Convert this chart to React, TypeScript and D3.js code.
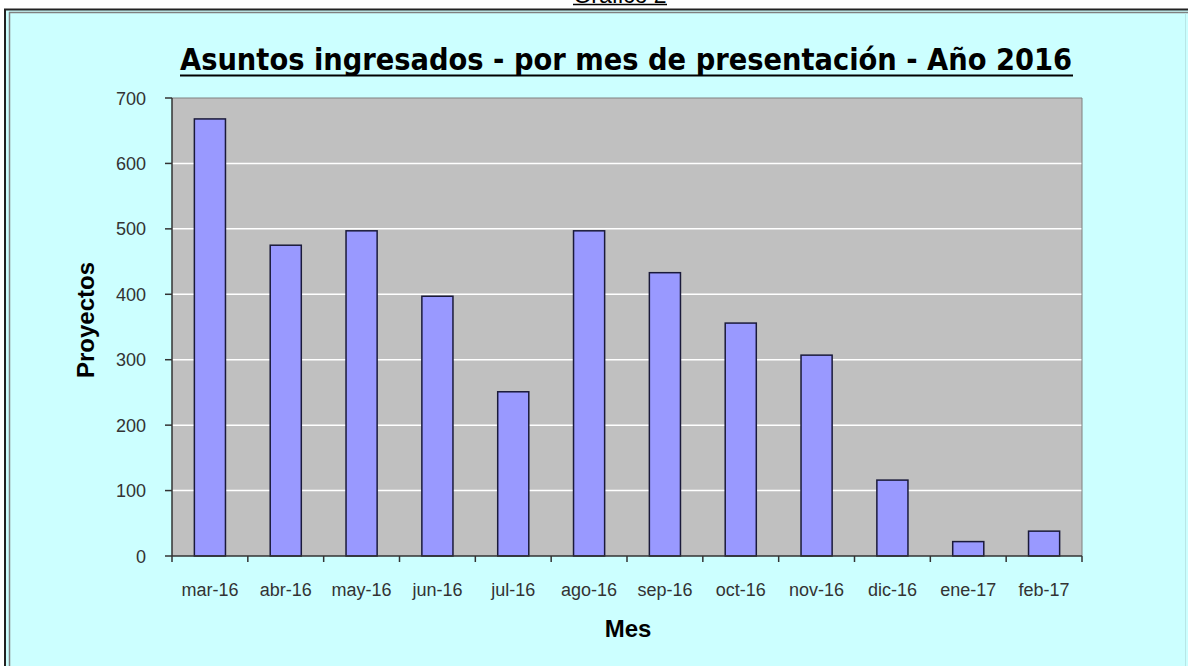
import React from "react";
import * as d3 from "d3";

const months = ["mar-16","abr-16","may-16","jun-16","jul-16","ago-16","sep-16","oct-16","nov-16","dic-16","ene-17","feb-17"];
const proyectos = [668, 475, 497, 397, 251, 497, 433, 356, 307, 116, 22, 38];
const yTicks = [0, 100, 200, 300, 400, 500, 600, 700];

const W = 1188, H = 666;
const M = { left: 172, right: 1082, top: 98, bottom: 556 };

export default function App() {
  const x = d3.scaleBand<string>().domain(months).range([M.left, M.right]).paddingInner(0).paddingOuter(0);
  const y = d3.scaleLinear().domain([0, 700]).range([M.bottom, M.top]);
  const bw = x.bandwidth() * 0.41;
  const font = "Arial, 'Liberation Sans', sans-serif";
  return (
    <svg width={W} height={H} style={{ position: "absolute", left: 0, top: 0, display: "block" }}>
      <rect x={0} y={0} width={W} height={H} fill="#ffffff" />
      {/* Gráfico 2 header (cut off at the top, as in the source) */}
      <text x={620} y={3} textAnchor="middle" fontFamily={font} fontSize={23} fill="#000">Gráfico 2</text>
      <line x1={573} x2={667} y1={4.5} y2={4.5} stroke="#000" strokeWidth={1.5} />
      {/* outer frame */}
      <rect x={4} y={9} width={W - 4} height={H - 9} fill="#ccffff" stroke="none" />
      <line x1={4} x2={W} y1={9.5} y2={9.5} stroke="#222" strokeWidth={2} />
      <line x1={5} x2={5} y1={9} y2={H} stroke="#222" strokeWidth={2} />
      <line x1={9} x2={W} y1={12.5} y2={12.5} stroke="#808080" strokeWidth={1.5} />
      <line x1={9.5} x2={9.5} y1={12} y2={H} stroke="#808080" strokeWidth={1.5} />
      <line x1={1185.5} x2={1185.5} y1={13} y2={H} stroke="#b8e6e6" strokeWidth={1} />
      {/* title */}
      <text x={626} y={70} textAnchor="middle" fontFamily="'DejaVu Sans Condensed', 'DejaVu Sans', sans-serif" fontWeight="bold" fontSize={30}
        textLength={892} lengthAdjust="spacingAndGlyphs" fill="#000">Asuntos ingresados - por mes de presentación - Año 2016</text>
      <line x1={180} x2={1073} y1={75.5} y2={75.5} stroke="#000" strokeWidth={2} />
      {/* plot area */}
      <rect x={M.left} y={M.top} width={M.right - M.left} height={M.bottom - M.top} fill="#c0c0c0" />
      {yTicks.filter(t => t > 0 && t < 700).map(t => (
        <line key={t} x1={M.left} x2={M.right} y1={y(t)} y2={y(t)} stroke="#ffffff" strokeWidth={1.5} />
      ))}
      <line x1={M.left} x2={M.right} y1={M.top} y2={M.top} stroke="#808080" strokeWidth={1} />
      <line x1={M.right} x2={M.right} y1={M.top} y2={M.bottom} stroke="#808080" strokeWidth={1} />
      {/* bars */}
      {months.map((m, i) => {
        const cx = (x(m) as number) + x.bandwidth() / 2;
        return (
          <rect key={m} x={cx - bw / 2} y={y(proyectos[i])} width={bw} height={y(0) - y(proyectos[i])}
            fill="#9999ff" stroke="#1a1a3a" strokeWidth={1.5} />
        );
      })}
      {/* axes */}
      <line x1={M.left} x2={M.left} y1={M.top} y2={M.bottom} stroke="#333" strokeWidth={1.5} />
      <line x1={M.left} x2={M.right} y1={M.bottom} y2={M.bottom} stroke="#333" strokeWidth={1.5} />
      {yTicks.map(t => (
        <g key={t}>
          <line x1={M.left - 7} x2={M.left} y1={y(t)} y2={y(t)} stroke="#333" strokeWidth={1.5} />
          <text x={146} y={y(t) + 6.5} textAnchor="end" fontFamily={font} fontSize={18} fill="#333">{t}</text>
        </g>
      ))}
      {months.map((m) => (
        <line key={"t" + m} x1={x(m) as number} x2={x(m) as number} y1={M.bottom} y2={M.bottom + 6} stroke="#333" strokeWidth={1.5} />
      ))}
      <line x1={M.right} x2={M.right} y1={M.bottom} y2={M.bottom + 6} stroke="#333" strokeWidth={1.5} />
      {months.map((m) => (
        <text key={"l" + m} x={(x(m) as number) + x.bandwidth() / 2} y={596} textAnchor="middle" fontFamily={font} fontSize={18} fill="#333">{m}</text>
      ))}
      {/* axis titles */}
      <text x={628} y={637} textAnchor="middle" fontFamily={font} fontWeight="bold" fontSize={24} fill="#000">Mes</text>
      <text transform={`translate(94,320) rotate(-90)`} textAnchor="middle" fontFamily={font} fontWeight="bold" fontSize={24} fill="#000">Proyectos</text>
    </svg>
  );
}
